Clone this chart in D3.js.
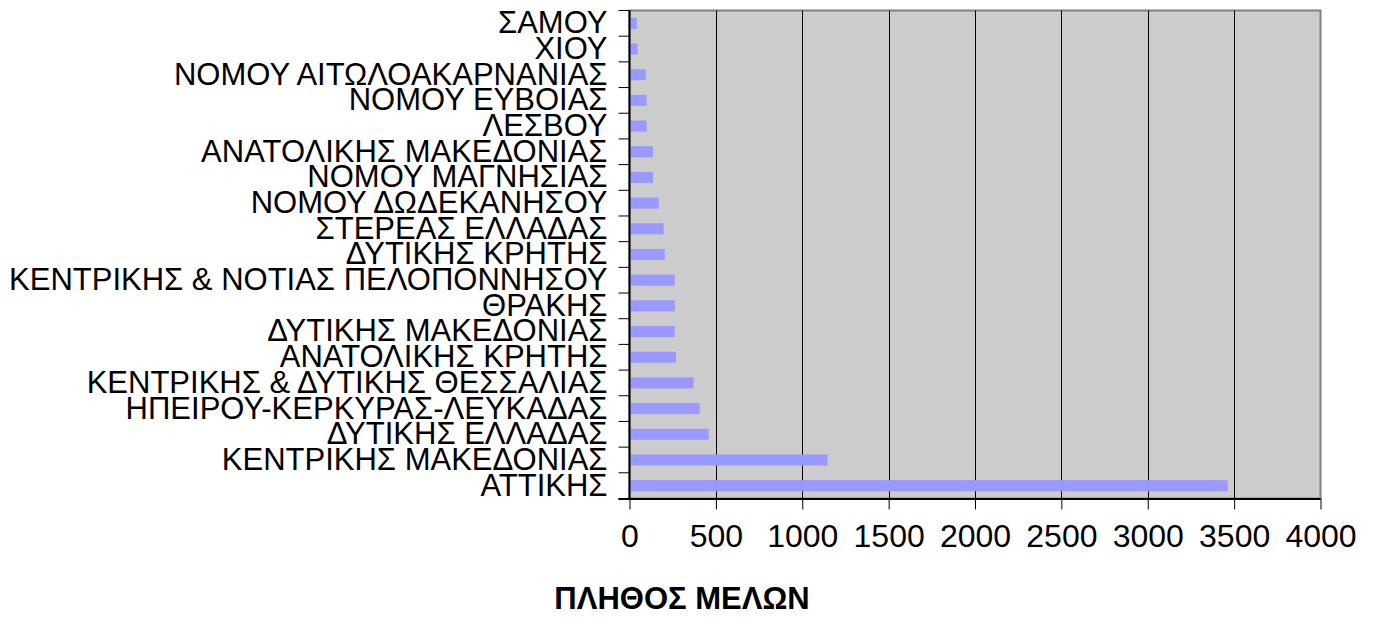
<!DOCTYPE html>
<html>
<head>
<meta charset="utf-8">
<script src="https://cdn.jsdelivr.net/npm/d3@7"></script>
<style>
  body { margin: 0; background: #fff; }
  text { font-family: "Liberation Sans", Arial, sans-serif; }
</style>
</head>
<body>
<svg id="chart" width="1373" height="617"></svg>
<script>
// categories from top to bottom, as drawn
var regions = [
	"ΣΑΜΟΥ", "ΧΙΟΥ", "ΝΟΜΟΥ ΑΙΤΩΛΟΑΚΑΡΝΑΝΙΑΣ", "ΝΟΜΟΥ ΕΥΒΟΙΑΣ", "ΛΕΣΒΟΥ",
	"ΑΝΑΤΟΛΙΚΗΣ ΜΑΚΕΔΟΝΙΑΣ", "ΝΟΜΟΥ ΜΑΓΝΗΣΙΑΣ", "ΝΟΜΟΥ ΔΩΔΕΚΑΝΗΣΟΥ", "ΣΤΕΡΕΑΣ ΕΛΛΑΔΑΣ",
	"ΔΥΤΙΚΗΣ ΚΡΗΤΗΣ", "ΚΕΝΤΡΙΚΗΣ & ΝΟΤΙΑΣ ΠΕΛΟΠΟΝΝΗΣΟΥ", "ΘΡΑΚΗΣ", "ΔΥΤΙΚΗΣ ΜΑΚΕΔΟΝΙΑΣ",
	"ΑΝΑΤΟΛΙΚΗΣ ΚΡΗΤΗΣ", "ΚΕΝΤΡΙΚΗΣ & ΔΥΤΙΚΗΣ ΘΕΣΣΑΛΙΑΣ", "ΗΠΕΙΡΟΥ-ΚΕΡΚΥΡΑΣ-ΛΕΥΚΑΔΑΣ",
	"ΔΥΤΙΚΗΣ ΕΛΛΑΔΑΣ", "ΚΕΝΤΡΙΚΗΣ ΜΑΚΕΔΟΝΙΑΣ", "ΑΤΤΙΚΗΣ"
];
var members = [
	42, 47, 94, 99, 99,
	136, 136, 169, 198,
	204, 262, 262, 262,
	269, 371, 406,
	458, 1147, 3463
];
var xTicks = [0, 500, 1000, 1500, 2000, 2500, 3000, 3500, 4000];
var xTitle = "ΠΛΗΘΟΣ ΜΕΛΩΝ";

var svg = d3.select("#chart");
var pLeft = 629.5, pRight = 1320.5, pTop = 10.5, pBottom = 498.5;

var x = d3.scaleLinear().domain([0, 4000]).range([pLeft, pRight]);
var y = d3.scaleBand().domain(regions).range([pTop, pBottom])
	.paddingInner(0.57).paddingOuter(0.285);

// plot background
svg.append("rect")
	.attr("x", pLeft).attr("y", pTop)
	.attr("width", pRight - pLeft).attr("height", pBottom - pTop)
	.style("fill", "#cccccc")
	.style("stroke", "#808080")
	.style("stroke-width", 2);

// gridlines
svg.selectAll("line.grid").data(xTicks.slice(1, -1)).enter()
	.append("line").attr("class", "grid")
	.attr("x1", function(d) { return Math.round(x(d)) + 0.5; })
	.attr("x2", function(d) { return Math.round(x(d)) + 0.5; })
	.attr("y1", pTop).attr("y2", pBottom)
	.style("stroke", "#000").style("stroke-width", 1);

// bars
svg.selectAll("rect.bar").data(regions).enter()
	.append("rect").attr("class", "bar")
	.attr("x", x(0))
	.attr("y", function(d) { return y(d); })
	.attr("width", function(d, i) { return x(members[i]) - x(0); })
	.attr("height", y.bandwidth())
	.style("fill", "#9999ff");

// y axis: labels at band centres, ticks on category boundaries
var yAxis = d3.axisLeft(y).tickSize(0).tickPadding(22);
var gy = svg.append("g")
	.attr("transform", "translate(" + pLeft + ",0)")
	.call(yAxis);
gy.select(".domain").remove();
gy.selectAll("text").style("font-size", "31px").style("fill", "#000");

var step = y.step();
var bounds = d3.range(regions.length + 1).map(function(i) { return pTop + i * step; });
svg.selectAll("line.ytick").data(bounds).enter()
	.append("line").attr("class", "ytick")
	.attr("x1", pLeft - 11).attr("x2", pLeft)
	.attr("y1", function(d) { return d; }).attr("y2", function(d) { return d; })
	.style("stroke", "#000").style("stroke-width", 1);
svg.append("line")
	.attr("x1", pLeft).attr("x2", pLeft).attr("y1", pTop).attr("y2", pBottom + 1)
	.style("stroke", "#000").style("stroke-width", 2);

// x axis
var xAxis = d3.axisBottom(x).tickValues(xTicks).tickSize(11).tickPadding(15)
	.tickFormat(d3.format("d"));
var gx = svg.append("g")
	.attr("transform", "translate(0," + pBottom + ")")
	.call(xAxis);
gx.select(".domain").attr("d", "M" + (pLeft - 11) + ",0.5H" + pRight).style("stroke", "#000").style("stroke-width", 2);
gx.selectAll(".tick line").style("stroke", "#000");
gx.selectAll("text").style("font-size", "32px").style("fill", "#000");

// axis title
svg.append("text")
	.attr("x", 682).attr("y", 609)
	.attr("text-anchor", "middle")
	.style("font-size", "31px").style("font-weight", "bold")
	.text(xTitle);
</script>
</body>
</html>
